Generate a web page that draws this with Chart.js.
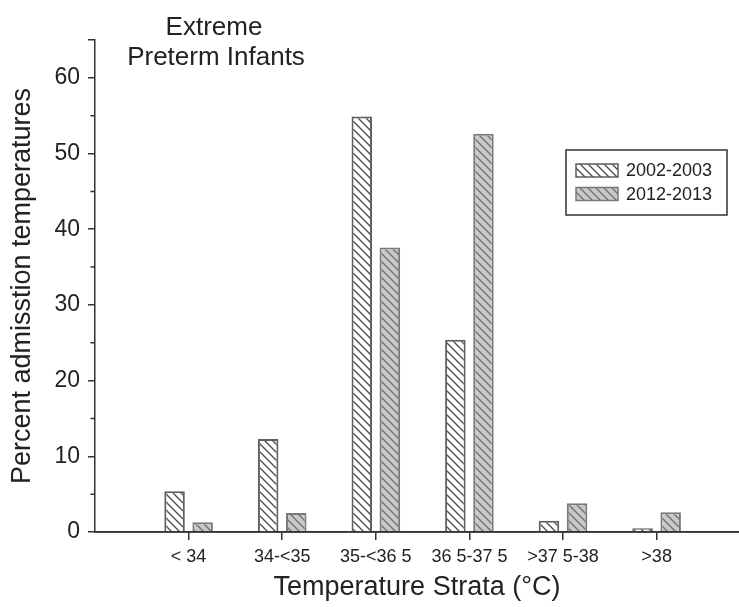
<!DOCTYPE html>
<html>
<head>
<meta charset="utf-8">
<script src="https://cdn.jsdelivr.net/npm/chart.js@4.4.0/dist/chart.umd.min.js"></script>
<style>
  html, body { margin: 0; padding: 0; background: #fff; overflow: hidden; }
  #wrap { width: 739px; height: 607px; }
  #canvas { display: block; }
</style>
</head>
<body>
<div id="wrap"><canvas id="canvas" width="739" height="607"></canvas></div>
<script>
// categories and values
const categories = ['< 34', '34-<35', '35-<36 5', '36 5-37 5', '>37 5-38', '>38'];
const series2002 = [5.4, 12.3, 54.9, 25.4, 1.5, 0.5];
const series2012 = [1.3, 2.5, 37.6, 52.6, 3.8, 2.6];
const seriesNames = ['2002-2003', '2012-2013'];
const yTicks = [0, 10, 20, 30, 40, 50, 60];
const yMinorTicks = [5, 15, 25, 35, 45, 55];

const FONT = "'Liberation Sans', Arial, Helvetica, sans-serif";
const INK = '#222';
const AXIS = '#333';

// diagonal hatch "\" pattern
function hatch(bg, line, size) {
	const c = document.createElement('canvas');
	c.width = size; c.height = size;
	const g = c.getContext('2d');
	g.fillStyle = bg;
	g.fillRect(0, 0, size, size);
	g.strokeStyle = line;
	g.lineWidth = 1.3;
	g.beginPath();
	g.moveTo(0, 0); g.lineTo(size, size);
	g.moveTo(-2, size - 2); g.lineTo(2, size + 2);
	g.moveTo(size - 2, -2); g.lineTo(size + 2, 2);
	g.stroke();
	return g.createPattern(c, 'repeat');
}

const pat2002 = hatch('#ffffff', '#4a4a4a', 8);
const pat2012 = hatch('#c9c9c9', '#6e6e6e', 8);

function toPoints(arr) {
	return arr.map((v, i) => ({ x: i, y: v }));
}

// title text in upper-left of the plot
const titlePlugin = {
	id: 'cornerTitle',
	afterDraw(chart) {
		const ctx = chart.ctx;
		const a = chart.chartArea;
		ctx.save();
		ctx.fillStyle = INK;
		ctx.font = '26px ' + FONT;
		ctx.textAlign = 'center';
		ctx.textBaseline = 'alphabetic';
		ctx.fillText('Extreme', a.left + 119, 35);
		ctx.fillText('Preterm Infants', a.left + 121, 65);
		ctx.restore();
	}
};

// x baseline out to the canvas edge, and short minor ticks on y
const axisPlugin = {
	id: 'axisExtras',
	afterDraw(chart) {
		const ctx = chart.ctx;
		const x = chart.scales.x, y = chart.scales.y;
		const y0 = y.getPixelForValue(0);
		ctx.save();
		ctx.strokeStyle = AXIS;
		ctx.lineWidth = 1.5;
		ctx.beginPath();
		ctx.moveTo(x.left, y0);
		ctx.lineTo(chart.width, y0);
		yMinorTicks.forEach((v) => {
			const py = y.getPixelForValue(v);
			ctx.moveTo(y.right - 4.5, py);
			ctx.lineTo(y.right, py);
		});
		ctx.stroke();
		ctx.restore();
	}
};

// boxed legend with hatch swatches
const legendPlugin = {
	id: 'boxLegend',
	afterDraw(chart) {
		const ctx = chart.ctx;
		const a = chart.chartArea;
		const x0 = a.right - 173, y0 = 150, w = 161, h = 65;
		ctx.save();
		ctx.strokeStyle = AXIS;
		ctx.lineWidth = 1.5;
		ctx.strokeRect(x0, y0, w, h);
		ctx.font = '18px ' + FONT;
		ctx.textBaseline = 'middle';
		ctx.fillStyle = INK;
		chart.data.datasets.forEach((ds, i) => {
			const sy = y0 + 14 + i * 23.5;
			ctx.fillStyle = ds.backgroundColor;
			ctx.fillRect(x0 + 10, sy, 42, 13);
			ctx.strokeStyle = ds.borderColor;
			ctx.lineWidth = 1.5;
			ctx.strokeRect(x0 + 10, sy, 42, 13);
			ctx.fillStyle = INK;
			ctx.fillText(ds.label, x0 + 60, sy + 7.5);
		});
		ctx.restore();
	}
};

window.onload = function() {
	const data = {
		datasets: [{
			label: seriesNames[0],
			data: toPoints(series2002),
			backgroundColor: pat2002,
			borderColor: '#5e5e5e',
			borderWidth: 2,
			categoryPercentage: 0.6,
			barPercentage: 0.73,
		}, {
			label: seriesNames[1],
			data: toPoints(series2012),
			backgroundColor: pat2012,
			borderColor: '#7a7a7a',
			borderWidth: 2,
			categoryPercentage: 0.6,
			barPercentage: 0.73,
		}]
	};

	const config = {
		type: 'bar',
		data: data,
		plugins: [titlePlugin, axisPlugin, legendPlugin],
		options: {
			responsive: false,
			animation: false,
			layout: { padding: { top: 40, left: 0, right: 0, bottom: 0 } },
			plugins: {
				legend: { display: false },
				tooltip: { enabled: false },
				title: { display: false },
			},
			scales: {
				x: {
					type: 'linear',
					offset: false,
					min: -1,
					max: 5.88,
					afterBuildTicks(scale) {
						scale.ticks = categories.map((c, i) => ({ value: i }));
					},
					afterFit(scale) { scale.height = 75; },
					ticks: {
						autoSkip: false,
						maxRotation: 0,
						padding: 6,
						color: INK,
						font: { family: FONT, size: 18 },
						callback: (v) => categories[v],
					},
					grid: {
						offset: false,
						drawOnChartArea: false,
						tickLength: 8,
						color: AXIS,
						lineWidth: 1.5,
					},
					border: { display: true, color: AXIS, width: 1.5 },
					title: {
						display: true,
						text: 'Temperature Strata (°C)',
						color: INK,
						font: { family: FONT, size: 27 },
						padding: { top: 0, bottom: 3 },
					},
				},
				y: {
					min: 0,
					max: 65,
					afterBuildTicks(scale) {
						scale.ticks = yTicks.concat([65]).map((v) => ({ value: v }));
					},
					afterFit(scale) { scale.width = 95; },
					ticks: {
						padding: 8,
						color: INK,
						font: { family: FONT, size: 23 },
						callback: (v) => yTicks.includes(v) ? String(v) : '',
					},
					grid: {
						drawOnChartArea: false,
						tickLength: 7,
						color: AXIS,
						lineWidth: 1.5,
					},
					border: { display: true, color: AXIS, width: 1.5 },
					title: {
						display: true,
						text: 'Percent admisstion temperatures',
						color: INK,
						font: { family: FONT, size: 27 },
						padding: { top: 6, bottom: 0 },
					},
				},
			},
		},
	};

	const canvas = document.getElementById('canvas');
	const chart = new Chart(canvas, config);
};
</script>
</body>
</html>
